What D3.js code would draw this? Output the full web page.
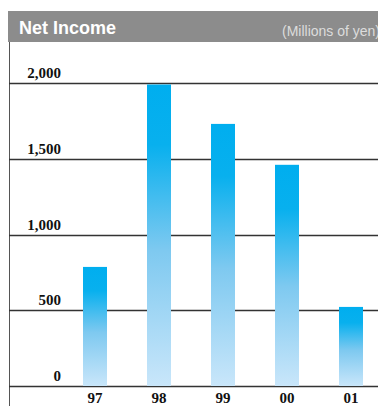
<!DOCTYPE html>
<html>
<head>
<meta charset="utf-8">
<script src="https://cdn.jsdelivr.net/npm/d3@7"></script>
<style>
  body { margin: 0; background: #fff; }
  svg { display: block; }
</style>
</head>
<body>
<svg id="chart" width="378" height="406"></svg>
<script>
var years = ["97", "98", "99", "00", "01"];
var netIncome = [786, 1990, 1730, 1460, 522];
var tickValues = [0, 500, 1000, 1500, 2000];
var tickLabels = ["0", "500", "1,000", "1,500", "2,000"];

var svg = d3.select("#chart");

var y = d3.scaleLinear().domain([0, 2000]).range([386, 83]);
var x = d3.scaleBand().domain(years).range([63, 383])
  .paddingInner(0.625).paddingOuter(0.3125);

// bar gradient
var grad = svg.append("defs").append("linearGradient")
  .attr("id", "barGrad")
  .attr("x1", 0).attr("y1", 0).attr("x2", 0).attr("y2", 1);
grad.append("stop").attr("offset", "0").attr("stop-color", "#00aeef");
grad.append("stop").attr("offset", "0.2").attr("stop-color", "#08b0ee");
grad.append("stop").attr("offset", "0.55").attr("stop-color", "#7ec9f0");
grad.append("stop").attr("offset", "1").attr("stop-color", "#c9e6fa");

// header band
svg.append("rect")
  .attr("x", 8).attr("y", 11).attr("width", 370).attr("height", 31)
  .attr("fill", "#8c8c8c");
svg.append("text")
  .attr("x", 19).attr("y", 34)
  .attr("font-family", "Liberation Sans, Arial, sans-serif")
  .attr("font-weight", "bold").attr("font-size", 18)
  .attr("fill", "#fff")
  .text("Net Income");
svg.append("text")
  .attr("x", 282).attr("y", 36)
  .attr("font-family", "Liberation Sans, Arial, sans-serif")
  .attr("font-size", 14)
  .attr("fill", "#dcdcdc")
  .text("(Millions of yen)");

// left rule
svg.append("line")
  .attr("x1", 9.5).attr("x2", 9.5).attr("y1", 42).attr("y2", 406)
  .attr("stroke", "#555").attr("stroke-width", 1);

// gridlines
svg.selectAll("line.grid").data(tickValues).enter().append("line")
  .attr("class", "grid")
  .attr("x1", 9).attr("x2", 378)
  .attr("y1", function(d){ return Math.round(y(d)) + 0.5; })
  .attr("y2", function(d){ return Math.round(y(d)) + 0.5; })
  .attr("stroke", "#333").attr("stroke-width", 1.4);

// bars
svg.selectAll("rect.bar").data(netIncome).enter().append("rect")
  .attr("class", "bar")
  .attr("x", function(d, i){ return x(years[i]); })
  .attr("width", x.bandwidth())
  .attr("y", function(d){ return y(d); })
  .attr("height", function(d){ return y(0) - y(d); })
  .attr("fill", "url(#barGrad)");

// y tick labels
svg.selectAll("text.ytick").data(tickValues).enter().append("text")
  .attr("class", "ytick")
  .attr("x", 61)
  .attr("y", function(d){ return y(d) - 5; })
  .attr("text-anchor", "end")
  .attr("font-family", "Liberation Serif, Times New Roman, serif")
  .attr("font-weight", "bold").attr("font-size", 15)
  .attr("fill", "#111")
  .text(function(d, i){ return tickLabels[i]; });

// x labels
svg.selectAll("text.xtick").data(years).enter().append("text")
  .attr("class", "xtick")
  .attr("x", function(d){ return x(d) + x.bandwidth() / 2; })
  .attr("y", 403)
  .attr("text-anchor", "middle")
  .attr("font-family", "Liberation Serif, Times New Roman, serif")
  .attr("font-weight", "bold").attr("font-size", 15)
  .attr("fill", "#111")
  .text(function(d){ return d; });
</script>
</body>
</html>
